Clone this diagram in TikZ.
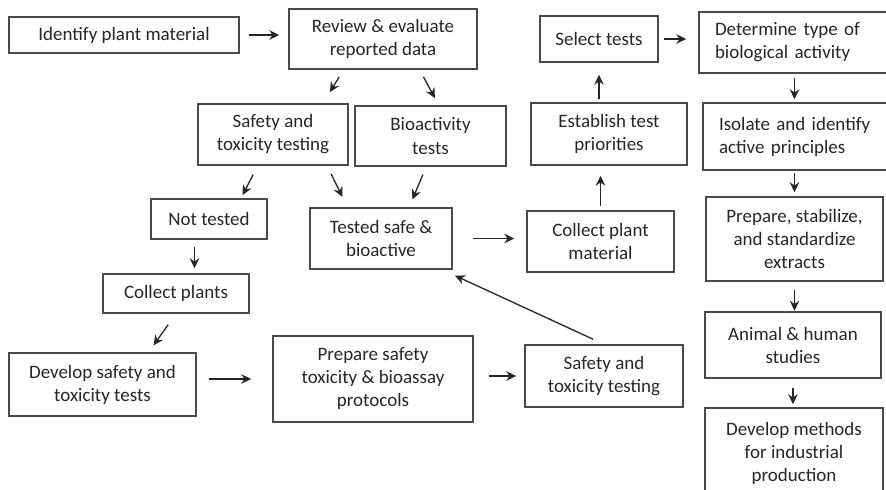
\documentclass[tikz,border=0pt]{standalone}
\usepackage{fontspec}
\setmainfont{Carlito}
\usepackage{tikz}
\usetikzlibrary{arrows.meta}

\definecolor{boxgray}{HTML}{4A4A4A}
\definecolor{txtgray}{HTML}{262626}
\definecolor{arrgray}{HTML}{262626}

\tikzset{
  box/.style={draw=boxgray, line width=0.85pt, text=txtgray, align=center,
    font=\fontsize{10.8}{13.1}\selectfont, inner sep=0pt},
  lbox/.style={box, align=left, inner xsep=0.32cm},
  arr/.style={draw=arrgray, line width=0.75pt, -{Stealth[length=2mm,width=1.9mm]}}
}

\begin{document}
\begin{tikzpicture}[x=0.02cm, y=-0.02cm]
\useasboundingbox (0,0) rectangle (886,490);
\clip (0,0) rectangle (886,490);
% nodes

\node[box, minimum width=4.6cm, minimum height=0.72cm] (idf) at (124,35) {Identify plant material};
\node[box, minimum width=3.76cm, minimum height=1.2cm] (rev) at (383,39) {Review \& evaluate\\reported data};
\node[box, minimum width=2.36cm, minimum height=0.92cm] (sel) at (599,39) {Select tests};
\node[lbox, text width=3.18cm, minimum height=1.22cm] (det) at (794.5,42.5) {Determine type of\\biological activity};

\node[box, minimum width=3.0cm, minimum height=1.22cm] (safe1) at (273,134.5) {Safety and\\toxicity testing};
\node[box, minimum width=3.02cm, minimum height=1.2cm] (bio) at (430.5,136) {Bioactivity\\tests};
\node[box, minimum width=3.12cm, minimum height=1.24cm] (est) at (609,134) {Establish test\\priorities};
\node[lbox, text width=3.1cm, minimum height=1.34cm] (iso) at (796.5,136.5) {Isolate and identify\\active principles};

\node[box, minimum width=2.32cm, minimum height=0.8cm] (nott) at (209,219) {Not tested};
\node[box, minimum width=2.84cm, minimum height=1.22cm] (tsb) at (381,238.5) {Tested safe \&\\bioactive};
\node[box, minimum width=2.94cm, minimum height=1.22cm] (cpm) at (600.5,241.5) {Collect plant\\material};
\node[box, minimum width=3.54cm, minimum height=1.68cm] (prep) at (794.5,239) {Prepare, stabilize,\\and standardize\\extracts};

\node[box, minimum width=2.92cm, minimum height=0.78cm] (cpl) at (176,293.5) {Collect plants};
\node[box, minimum width=3.52cm, minimum height=1.32cm] (anim) at (793,345) {Animal \& human\\studies};

\node[box, minimum width=3.74cm, minimum height=1.26cm] (dev) at (102.5,384.5) {Develop safety and\\toxicity tests};
\node[box, minimum width=4.0cm, minimum height=1.72cm] (psp) at (373,379) {Prepare safety\\toxicity \& bioassay\\protocols};
\node[box, minimum width=3.16cm, minimum height=1.24cm] (safe2) at (604,376) {Safety and\\toxicity testing};
\node[box, minimum width=3.56cm, minimum height=1.8cm] (meth) at (794,453) {Develop methods\\for industrial\\production};

% arrows
\draw[arr, shorten <=0.18cm, shorten >=0.18cm] (idf.east) -- (idf.east -| rev.west);
\draw[arr, shorten <=0.17cm, shorten >=0.26cm] (rev.218) -- (safe1.32);
\draw[arr, shorten <=0.16cm, shorten >=0.16cm] (rev.320) -- (bio.75);
\draw[arr, shorten <=0.2cm, shorten >=0.07cm] (safe1.244) -- (nott.33);
\draw[arr, shorten <=0.18cm, shorten >=0.23cm] (safe1.330) -- (tsb.137);
\draw[arr, shorten <=0.17cm, shorten >=0.17cm] (bio.262) -- (tsb.48);
\draw[arr, shorten <=0.4cm, shorten >=0.24cm] (tsb.east) -- (tsb.east -| cpm.west);
\draw[arr, shorten <=0.08cm, shorten >=0.2cm] (cpm.north) -- (cpm.north |- est.south);
\draw[arr, shorten <=0.06cm, shorten >=0.24cm] (sel.south |- est.north) -- (sel.south);
\draw[arr, shorten <=0.1cm, shorten >=0.24cm] (sel.east) -- (sel.east -| det.west);
\draw[arr, shorten <=0.08cm, shorten >=0.06cm] (det.south) -- (det.south |- iso.north);
\draw[arr, shorten <=0.04cm, shorten >=0.08cm] (prep.north |- iso.south) -- (prep.north);
\draw[arr, shorten <=0.16cm, shorten >=0.01cm] (prep.south) -- (prep.south |- anim.north);
\draw[arr, shorten <=0.18cm, shorten >=0.06cm] (anim.south) -- (anim.south |- meth.north);
\draw[arr, shorten <=0.14cm, shorten >=0.1cm] (nott.235) -- (nott.235 |- cpl.north);
\draw[arr, shorten <=0.27cm, shorten >=0.17cm] (cpl.south) -- (dev.35);
\draw[arr, shorten <=0.24cm, shorten >=0.42cm] (psp.west -| dev.east) -- (psp.west);
\draw[arr, shorten <=0.3cm, shorten >=0.16cm] (safe2.west -| psp.east) -- (safe2.west);
\draw[arr, shorten <=0.24cm, shorten >=0.28cm] (safe2.north) -- (tsb.333);
\end{tikzpicture}
\end{document}
